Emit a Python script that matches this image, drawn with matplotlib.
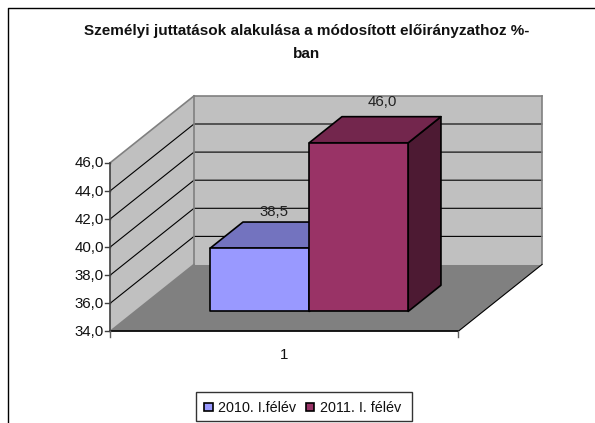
import matplotlib
matplotlib.use('Agg')
import matplotlib.pyplot as plt
from matplotlib.patches import Polygon, Rectangle

plt.rcParams['font.family'] = ['Liberation Sans', 'DejaVu Sans']

title_lines = ['Személyi juttatások alakulása a módosított előirányzathoz %-', 'ban']
series_names = ['2010. I.félév', '2011. I. félév']
values = [38.5, 46.0]
value_labels = ['38,5', '46,0']
category = '1'
axis_values = [34, 36, 38, 40, 42, 44, 46]
axis_labels = ['34,0', '36,0', '38,0', '40,0', '42,0', '44,0', '46,0']
front_colors = ['#9999FF', '#993366']
top_colors = ['#7373BF', '#73264D']
side_colors = ['#4D4D80', '#4D1A33']

# projection
X0, Y0 = 110, 331.5
PX_PER_UNIT = 14.05
DX, DY = 84, -67
WIDTH = 348


def pt(x, v, d=0.0):
    return (X0 + x + DX * d, Y0 - (v - 34) * PX_PER_UNIT + DY * d)


fig = plt.figure(figsize=(5.95, 4.23), dpi=100)
ax = fig.add_axes([0, 0, 1, 1])
ax.set_xlim(0, 595)
ax.set_ylim(423, 0)
ax.axis('off')

# chart frame
ax.plot([8, 8, 595], [423, 8.5, 8.5], color='black', lw=1.0, zorder=1)

# walls and floor
wall = '#C0C0C0'
edge = '#808080'
ax.add_patch(Polygon([pt(0, 34), pt(0, 46), pt(0, 46, 1), pt(0, 34, 1)], fc=wall, ec='none', zorder=2))
ax.add_patch(Polygon([pt(0, 34, 1), pt(0, 46, 1), pt(WIDTH, 46, 1), pt(WIDTH, 34, 1)], fc=wall, ec='none', zorder=2))
ax.add_patch(Polygon([pt(0, 34), pt(0, 34, 1), pt(WIDTH, 34, 1), pt(WIDTH, 34)], fc=edge, ec='none', zorder=2))

# gridlines
for v in axis_values[1:-1]:
    xs, ys = zip(pt(0, v), pt(0, v, 1), pt(WIDTH, v, 1))
    ax.plot(xs, ys, color='black', lw=0.8, zorder=3)

# wall edges
for a, b in [(pt(0, 46), pt(0, 46, 1)), (pt(0, 46, 1), pt(WIDTH, 46, 1)),
             (pt(WIDTH, 46, 1), pt(WIDTH, 34, 1)), (pt(0, 46, 1), pt(0, 34, 1)),
             (pt(0, 34), pt(0, 34, 1))]:
    ax.plot([a[0], b[0]], [a[1], b[1]], color=edge, lw=1.2, zorder=3, solid_capstyle='projecting')

# floor front and right edges, axis
ax.plot(*zip(pt(WIDTH, 34), pt(WIDTH, 34, 1)), color='black', lw=0.8, zorder=3)
ax.plot(*zip(pt(0, 34), pt(WIDTH, 34)), color='black', lw=1.2, zorder=4)
ax.plot(*zip(pt(0, 34), pt(0, 46)), color='#404040', lw=1.2, zorder=4)
for v, lab in zip(axis_values, axis_labels):
    x, y = pt(0, v)
    ax.plot([x - 5, x], [y, y], color='#404040', lw=1.0, zorder=4)
    ax.text(x - 6, y + 0.5, lab, ha='right', va='center', fontsize=10.8, color='#111111')
for x_off in (0, WIDTH):
    x, y = pt(x_off, 34)
    ax.plot([x, x], [y, y + 6], color='#606060', lw=1.0, zorder=4)
ax.text(284, 355, category, ha='center', va='center', fontsize=10.8, color='#111111')

# bars
BAR_W = 99
BAR_X = [75, 174]
D0, D1 = 0.30, 0.69
for i, v in enumerate(values):
    x = BAR_X[i]
    fl, tl = pt(x, 34, D0), pt(x, v, D0)
    fr, tr = pt(x + BAR_W, 34, D0), pt(x + BAR_W, v, D0)
    bl, br = pt(x, v, D1), pt(x + BAR_W, v, D1)
    brb = pt(x + BAR_W, 34, D1)
    z = 5 + i
    ax.add_patch(Polygon([fr, tr, br, brb], fc=side_colors[i], ec='black', lw=1.2, zorder=z, joinstyle='round'))
    ax.add_patch(Polygon([tl, tr, br, bl], fc=top_colors[i], ec='black', lw=1.2, zorder=z, joinstyle='round'))
    ax.add_patch(Polygon([fl, tl, tr, fr], fc=front_colors[i], ec='black', lw=1.2, zorder=z, joinstyle='round'))

ax.text(274, 212, value_labels[0], ha='center', va='center', fontsize=10.8, color='#222222', zorder=4)
ax.text(382, 102, value_labels[1], ha='center', va='center', fontsize=10.8, color='#222222', zorder=8)

# title
ax.text(307, 31.5, title_lines[0], ha='center', va='center', fontsize=11, fontweight='bold', color='#111111')
ax.text(307, 53.5, title_lines[1], ha='center', va='center', fontsize=11, fontweight='bold', color='#111111')

# legend
ax.add_patch(Rectangle((196, 392.5), 216, 29, fc='white', ec='#333333', lw=1.0, zorder=5))
for x, col in zip((204, 305.5), front_colors):
    ax.add_patch(Rectangle((x, 403), 8.5, 8.5, fc=col, ec='black', lw=1.2, zorder=6))
for x, name in zip((218, 320), series_names):
    ax.text(x, 408, name, ha='left', va='center', fontsize=10.4, color='#111111', zorder=6)

fig.savefig('out.png', dpi=100)
